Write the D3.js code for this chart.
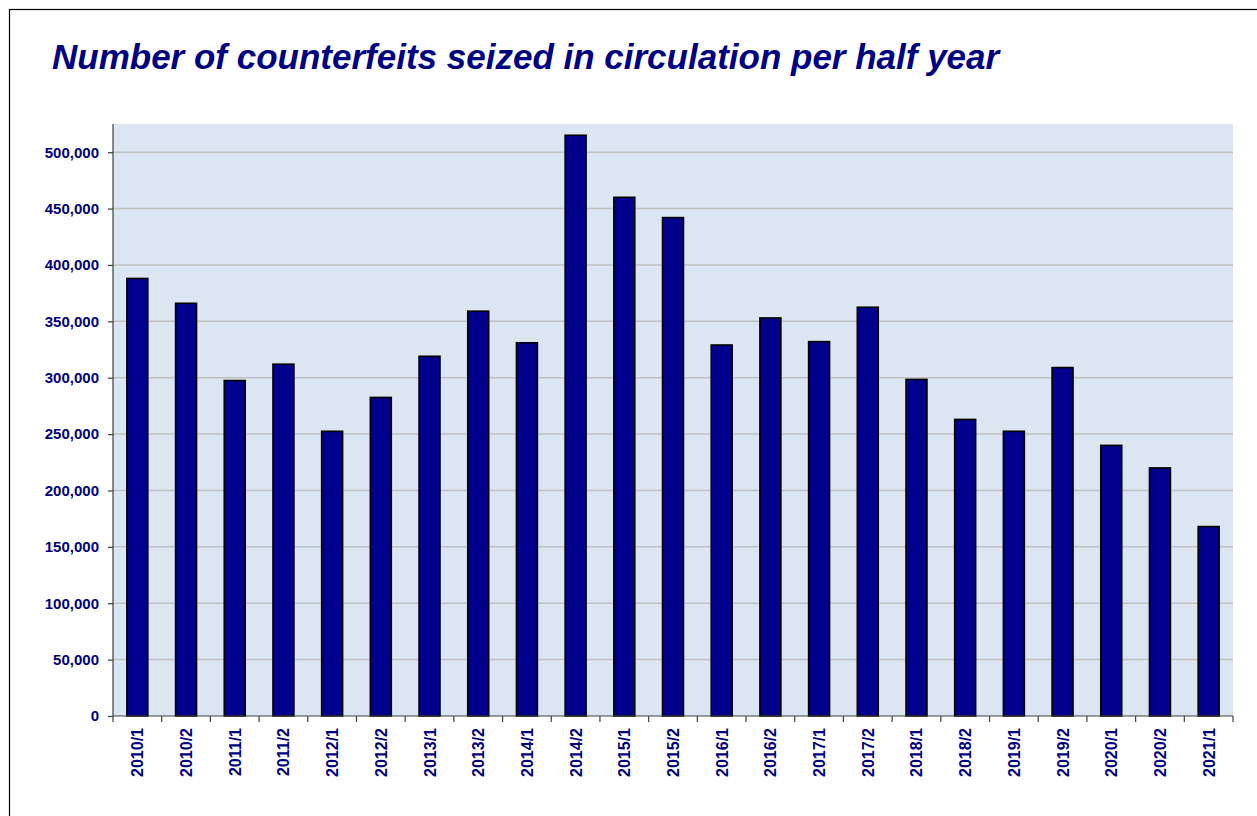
<!DOCTYPE html>
<html>
<head>
<meta charset="utf-8">
<script src="https://cdn.jsdelivr.net/npm/d3@7"></script>
<style>
  body { margin: 0; background: #fff; }
  svg { display: block; }
</style>
</head>
<body>
<figure id="counterfeits" style="margin:0"></figure>
<script>
// half year periods shown on the x axis
var periods = ["2010/1", "2010/2", "2011/1", "2011/2", "2012/1", "2012/2",
  "2013/1", "2013/2", "2014/1", "2014/2", "2015/1", "2015/2",
  "2016/1", "2016/2", "2017/1", "2017/2", "2018/1", "2018/2",
  "2019/1", "2019/2", "2020/1", "2020/2", "2021/1"];

// counterfeits seized
var seized = [388000, 366000, 297500, 312000, 252500, 282500,
  319000, 359000, 331000, 515000, 460000, 442000,
  329000, 353000, 332000, 362500, 298500, 263000,
  252500, 309000, 240000, 220000, 168000];

var yTicks = [0, 50000, 100000, 150000, 200000, 250000, 300000, 350000, 400000, 450000, 500000];

var data = periods.map(function(p, i) { return {period: p, value: seized[i]}; });

// set the dimensions and margins of the graph
var margin = {top: 124, right: 24, bottom: 100, left: 113},
  width = 1257 - margin.left - margin.right,
  height = 816 - margin.top - margin.bottom;

var navy = "#000080";

var root = d3.select("figure#counterfeits")
  .append("svg")
  .attr("width", 1257)
  .attr("height", 816);

// outer frame of the slide
root.append("rect")
  .attr("x", 9.5).attr("y", 9.5)
  .attr("width", 1300).attr("height", 900)
  .attr("fill", "none")
  .attr("stroke", "#000")
  .attr("stroke-width", 1.2);

root.append("text")
  .attr("x", 52).attr("y", 69)
  .attr("fill", navy)
  .style("font-family", "'Liberation Sans', Arial, sans-serif")
  .style("font-weight", "bold")
  .style("font-style", "italic")
  .style("font-size", "35px")
  .text("Number of counterfeits seized in circulation per half year");

var svg = root.append("g")
  .attr("transform", "translate(" + margin.left + "," + margin.top + ")");

var x = d3.scaleBand()
  .domain(periods)
  .range([0, width])
  .paddingInner(0.57)
  .paddingOuter(0.285);

var y = d3.scaleLinear()
  .domain([0, 525000])
  .range([height, 0]);

// plot background
svg.append("rect")
  .attr("width", width)
  .attr("height", height)
  .attr("fill", "#dce6f2");

// gridlines
svg.selectAll("line.grid")
  .data(yTicks.slice(1))
  .enter()
  .append("line")
  .attr("class", "grid")
  .attr("x1", 0).attr("x2", width)
  .attr("y1", function(d) { return y(d); })
  .attr("y2", function(d) { return y(d); })
  .attr("stroke", "#c0c0c0")
  .attr("stroke-width", 1.5);

// bars
svg.selectAll("rect.bar")
  .data(data)
  .enter()
  .append("rect")
  .attr("class", "bar")
  .attr("x", function(d) { return x(d.period); })
  .attr("y", function(d) { return y(d.value); })
  .attr("width", x.bandwidth())
  .attr("height", function(d) { return height - y(d.value); })
  .attr("fill", "#00008c")
  .attr("stroke", "#000")
  .attr("stroke-width", 1.6);

// y axis
var yAxis = svg.append("g")
  .call(d3.axisLeft(y)
    .tickValues(yTicks)
    .tickSize(5)
    .tickPadding(9)
    .tickFormat(d3.format(",")));

// x axis, ticks sit between the bars
var step = x.step();
var xAxis = svg.append("g")
  .attr("transform", "translate(0," + height + ")");

xAxis.append("line")
  .attr("x1", 0).attr("x2", width)
  .attr("stroke", "#404040")
  .attr("stroke-width", 1.2);

xAxis.selectAll("line.tick")
  .data(d3.range(periods.length + 1))
  .enter()
  .append("line")
  .attr("class", "tick")
  .attr("x1", function(i) { return i * step; })
  .attr("x2", function(i) { return i * step; })
  .attr("y1", 0).attr("y2", 6)
  .attr("stroke", "#404040")
  .attr("stroke-width", 1.2);

xAxis.selectAll("text")
  .data(periods)
  .enter()
  .append("text")
  .attr("transform", function(d) {
    return "translate(" + (x(d) + x.bandwidth() / 2 + 6) + ",12) rotate(-90)";
  })
  .attr("text-anchor", "end")
  .attr("fill", navy)
  .style("font-family", "'Liberation Sans', Arial, sans-serif")
  .style("font-weight", "bold")
  .style("font-size", "16px")
  .text(function(d) { return d; });

yAxis.select(".domain")
  .attr("d", "M0,0V" + height)
  .attr("stroke", "#404040")
  .attr("stroke-width", 1.2);
yAxis.selectAll(".tick line")
  .attr("stroke", "#404040")
  .attr("stroke-width", 1.2);
yAxis.selectAll(".tick text")
  .attr("fill", navy)
  .style("font-family", "'Liberation Sans', Arial, sans-serif")
  .style("font-weight", "bold")
  .style("font-size", "15px");
</script>
</body>
</html>
